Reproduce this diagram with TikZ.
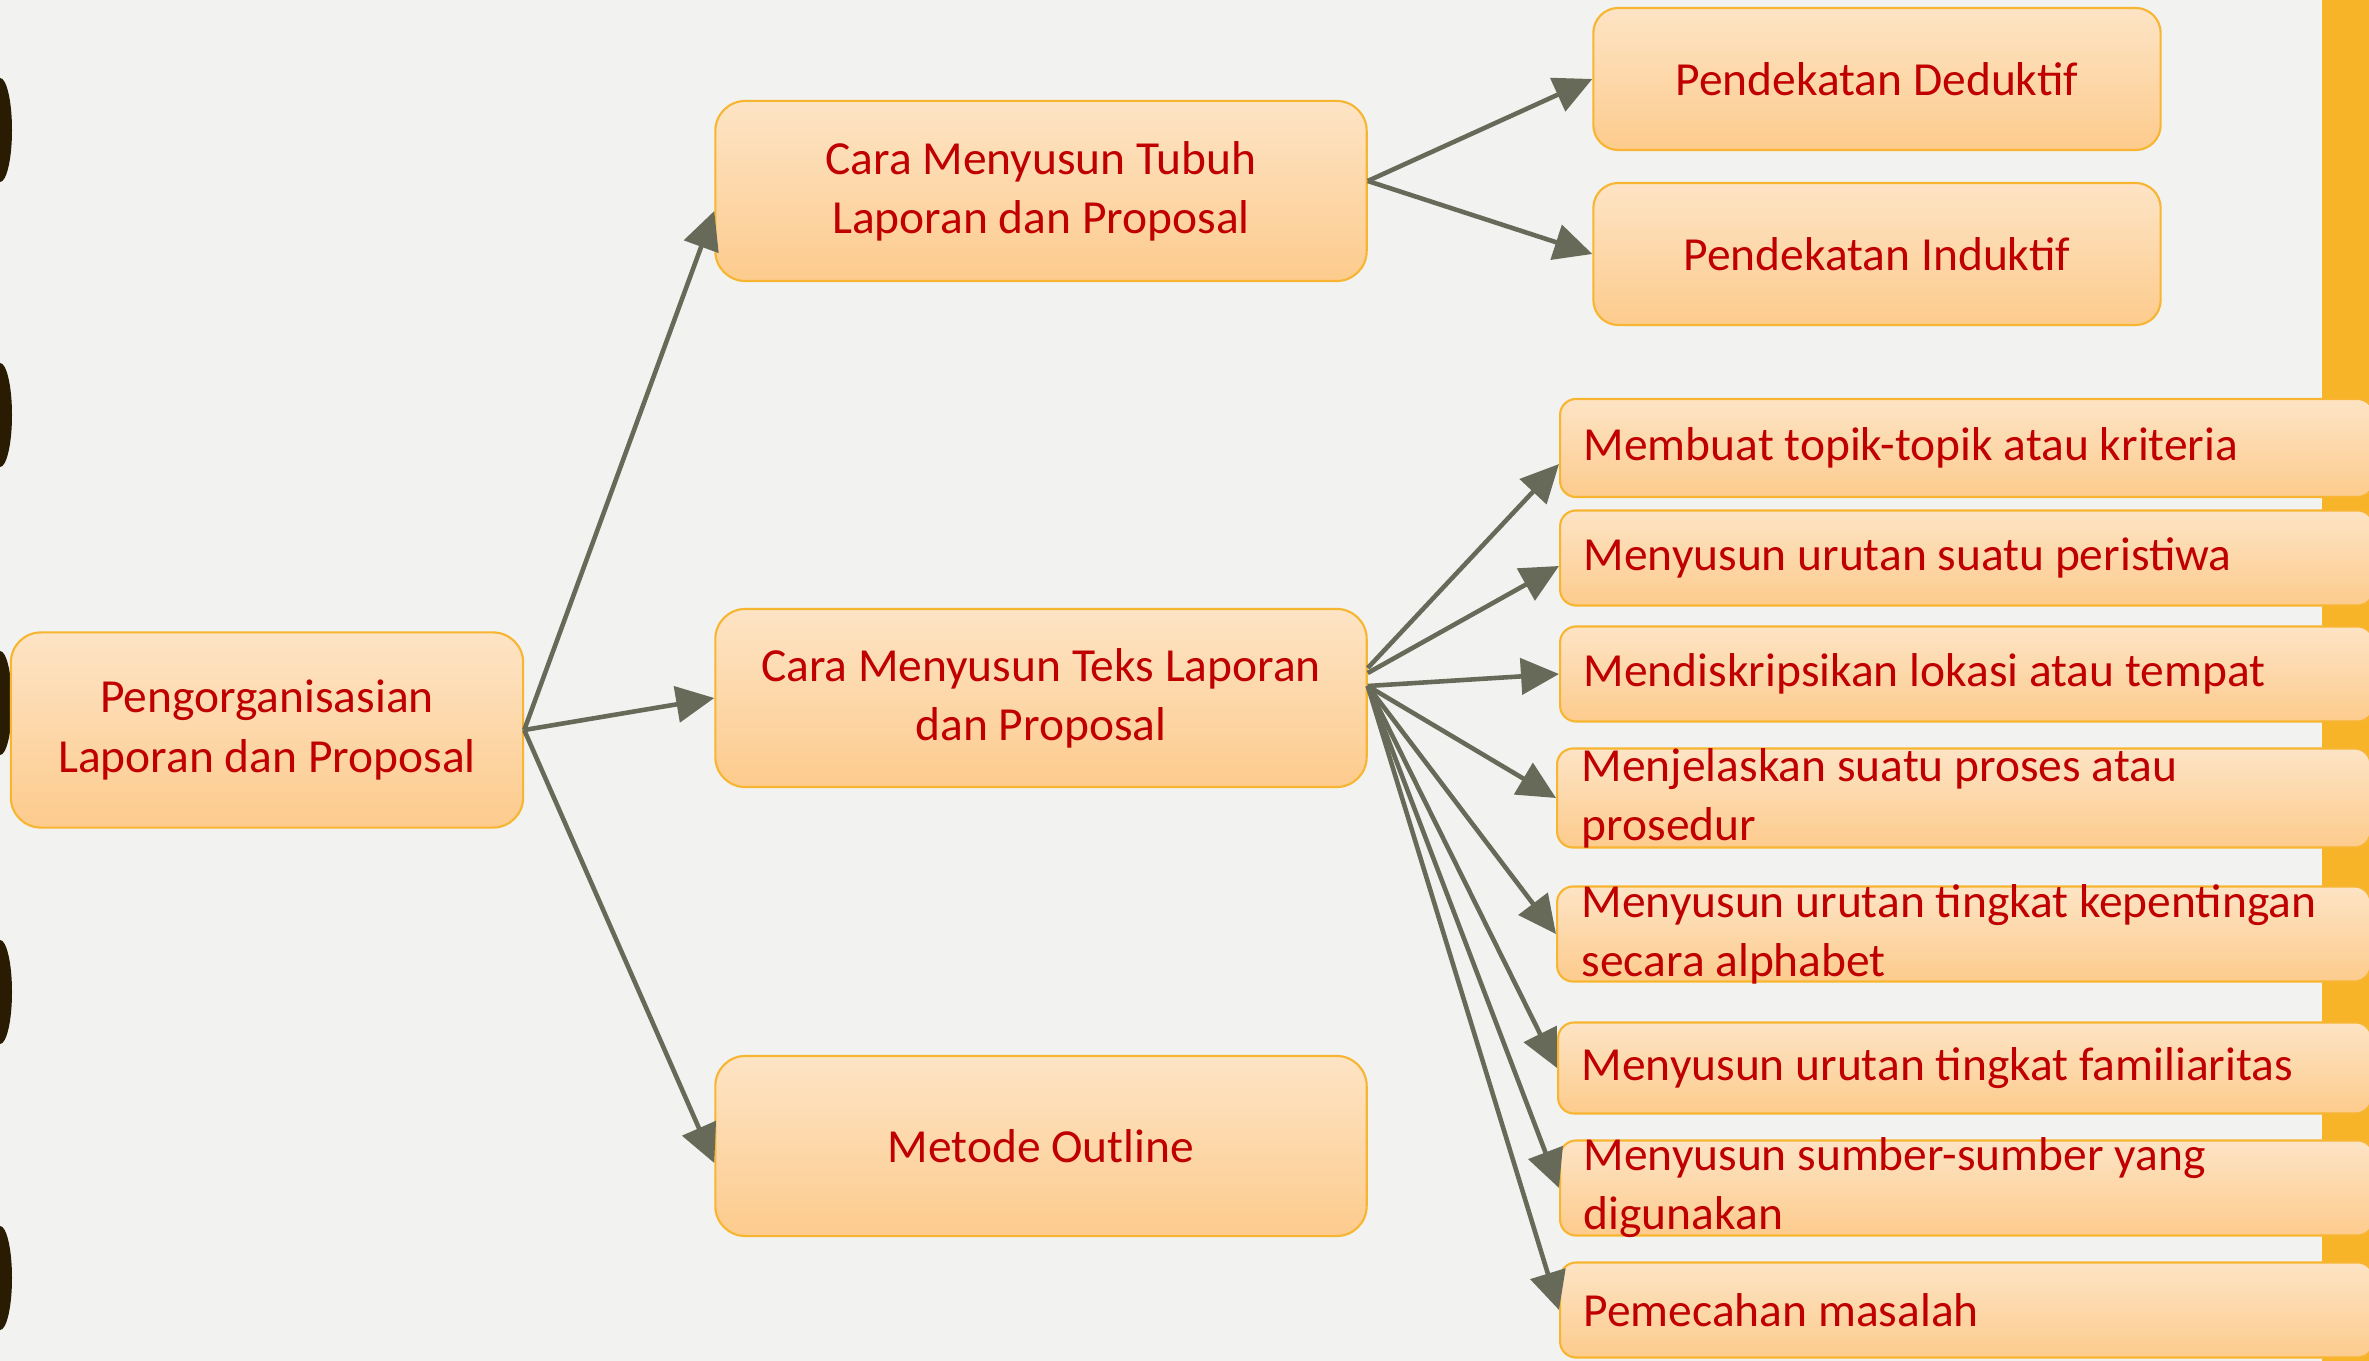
\documentclass[tikz,border=0pt]{standalone}
\usepackage{fontspec}
\setmainfont{Carlito}
\usetikzlibrary{positioning,arrows.meta}
\definecolor{bgpaper}{HTML}{F2F2F0}
\definecolor{barorange}{HTML}{F7B428}
\definecolor{ringdark}{HTML}{2A1C03}
\definecolor{boxtop}{HTML}{FDE4C5}
\definecolor{boxbot}{HTML}{FDCB8D}
\definecolor{boxline}{HTML}{F7B531}
\definecolor{txtred}{HTML}{C00000}
\definecolor{arrowgray}{HTML}{676A58}
\newcommand{\boxfont}{\fontsize{13.5}{16.8}\selectfont}

\begin{document}
\begin{tikzpicture}[x=0.01cm, y=-0.01cm,
    box/.style={draw=boxline, line width=0.6pt, rounded corners=0.3cm, top color=boxtop,
      bottom color=boxbot, text=txtred, align=center, font=\boxfont, inner sep=0pt},
    leaf/.style={box, rounded corners=0.16cm, anchor=west, minimum width=8.13cm},
    leaftxt/.style={text=txtred, align=left, font=\boxfont, inner sep=0pt},
    conn/.style={draw=arrowgray, line width=1.3pt, -{Triangle[length=0.38cm, width=0.36cm]}}]
    \useasboundingbox (0,0) rectangle (2369,1361);
    \clip (0,0) rectangle (2369,1361);
    \fill[bgpaper] (0,0) rectangle (2369,1361);
    \fill[barorange] (2322,0) rectangle (2369,1361);
    % binder rings on the left edge
    \foreach \ry in {130,415,703,992,1278}
        \fill[ringdark] (0,\ry) ellipse [x radius=0.12cm, y radius=0.52cm];

    \node[box, minimum width=5.12cm, minimum height=1.95cm] (root) at (267,730) {Pengorganisasian\\Laporan dan Proposal};
    \node[box, minimum width=6.51cm, minimum height=1.80cm] (tubuh) at (1041,191) {Cara Menyusun Tubuh\\Laporan dan Proposal};
    \node[box, minimum width=6.51cm, minimum height=1.78cm] (teks) at (1041,698) {Cara Menyusun Teks Laporan\\dan Proposal};
    \node[box, minimum width=6.51cm, minimum height=1.80cm] (metode) at (1041,1146) {Metode Outline};
    \node[box, rounded corners=0.25cm, minimum width=5.67cm, minimum height=1.42cm] (ded) at (1877,79) {Pendekatan Deduktif};
    \node[box, rounded corners=0.25cm, minimum width=5.67cm, minimum height=1.42cm] (ind) at (1877,254) {Pendekatan Induktif};

    % leaves of the text branch
    \node[leaf, minimum height=0.98cm] (l1) at (1559,448) {};
    \node[leaf, minimum height=0.95cm] (l2) at (1559,558) {};
    \node[leaf, minimum height=0.95cm] (l3) at (1559,674) {};
    \node[leaf, minimum height=0.99cm] (l4) at (1556,798) {};
    \node[leaf, minimum height=0.95cm] (l5) at (1556,934) {};
    \node[leaf, minimum height=0.91cm] (l6) at (1557,1068) {};
    \node[leaf, minimum height=0.95cm] (l7) at (1559,1188) {};
    \node[leaf, minimum height=0.95cm] (l8) at (1559,1310) {};
    \node[leaftxt, right=0.24cm of l1.west] (l1t) {Membuat topik-topik atau kriteria};
    \node[leaftxt, right=0.24cm of l2.west] (l2t) {Menyusun urutan suatu peristiwa};
    \node[leaftxt, right=0.24cm of l3.west] (l3t) {Mendiskripsikan lokasi atau tempat};
    \node[leaftxt, right=0.25cm of l4.west] (l4t) {Menjelaskan suatu proses atau\\prosedur};
    \node[leaftxt, right=0.25cm of l5.west] (l5t) {Menyusun urutan tingkat kepentingan\\secara alphabet};
    \node[leaftxt, right=0.24cm of l6.west] (l6t) {Menyusun urutan tingkat familiaritas};
    \node[leaftxt, right=0.24cm of l7.west] (l7t) {Menyusun sumber-sumber yang\\digunakan};
    \node[leaftxt, right=0.24cm of l8.west] (l8t) {Pemecahan masalah};

    \draw[conn] (root.east) -- ([yshift=-0.2cm]tubuh.west);
    \draw[conn] (root.east) -- (teks.west);
    \draw[conn] (root.east) -- ([yshift=-0.17cm]metode.west);
    \draw[conn] ([yshift=0.1cm]tubuh.east) -- (ded.west);
    \draw[conn] ([yshift=0.1cm]tubuh.east) -- (ind.west);
    \draw[conn] ([yshift=0.3cm]teks.east) -- ([yshift=-0.16cm]l1.west);
    \draw[conn] ([yshift=0.25cm]teks.east) -- ([yshift=-0.08cm]l2.west);
    \foreach \n in {l3,l4,l5,l6,l7,l8}
        \draw[conn] ([yshift=0.12cm]teks.east) -- (\n.west);
\end{tikzpicture}
\end{document}
